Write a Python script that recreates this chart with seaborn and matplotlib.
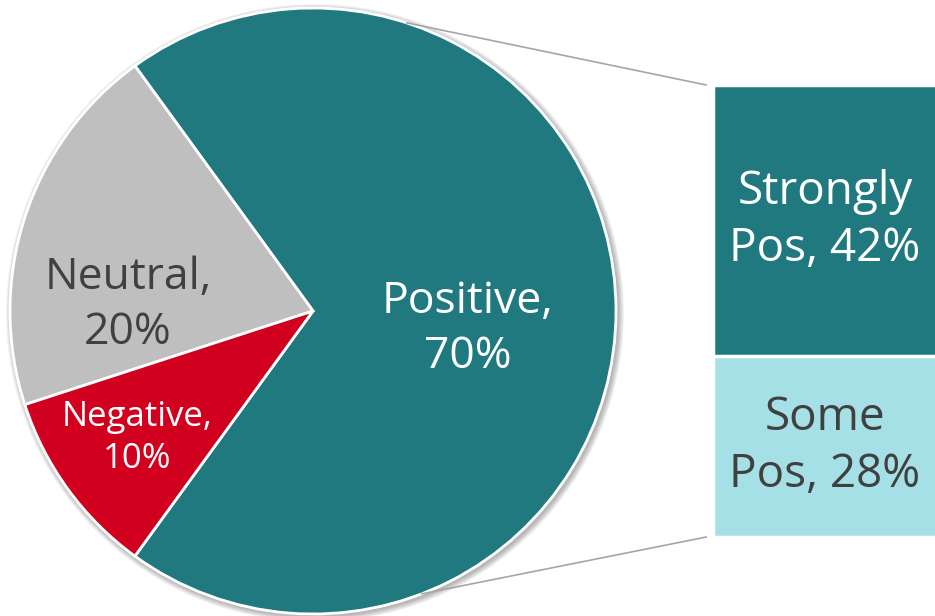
import numpy as np
import matplotlib
matplotlib.use("Agg")
import matplotlib.pyplot as plt
from matplotlib.patches import Circle, ConnectionPatch
import seaborn as sns

# pie data
pie_labels = ["Positive", "Neutral", "Negative"]
pie_values = [70, 20, 10]
pie_colors = ["#217980", "#BFBFBF", "#D0001E"]
pie_text_colors = ["white", "#404040", "white"]

# breakdown of the positive slice
bar_labels = ["Strongly\nPos", "Some\nPos"]
bar_values = [42, 28]
bar_colors = ["#217980", "#A5E0E6"]
bar_text_colors = ["white", "#404040"]

sns.set_theme(style="white")
plt.rcParams['font.family'] = ['Open Sans', 'DejaVu Sans']

W, H = 935, 616
fig = plt.figure(figsize=(W / 100, H / 100), dpi=100)

# pie axes in pixel-like units
ax = fig.add_axes([0, 0, 1, 1])
ax.set_xlim(0, W)
ax.set_ylim(0, H)
ax.set_aspect("equal")
ax.axis("off")

cx, cy, r = 313, H - 311, 303

# soft shadow behind the pie
for i in range(6):
    ax.add_patch(Circle((cx + 2, cy - 2), r + 1 + i, color="black",
                        alpha=0.05, lw=0, zorder=0))

wedges, _ = ax.pie(pie_values, colors=pie_colors, startangle=-126,
                   counterclock=True, center=(cx, cy), radius=r,
                   wedgeprops=dict(edgecolor="white", linewidth=2))
for w in wedges:
    w.set_zorder(2)
ax.set_xlim(0, W)
ax.set_ylim(0, H)
ax.axis("off")

label_pos = [(468, H - 329), (128, H - 305), (137, H - 438)]
label_size = [32, 32, 25]
for name, val, col, pos, fs in zip(pie_labels, pie_values, pie_text_colors,
                                   label_pos, label_size):
    ax.text(pos[0], pos[1], f"{name},\n{val}%", color=col, fontsize=fs,
            ha="center", va="center", linespacing=1.32, zorder=5)

# bar of pie
bx0, bx1, by_top, by_bot = 713, 937, 85, 537
bax = fig.add_axes([bx0 / W, (H - by_bot) / H, (bx1 - bx0) / W,
                    (by_bot - by_top) / H])
total = sum(bar_values)

# stacked: draw total first, then lower segment on top of it
cum = [total, bar_values[1]]
for val, col in zip(cum, bar_colors):
    sns.barplot(x=[0], y=[val], color=col, width=1, ax=bax,
                edgecolor="white", linewidth=2.5, saturation=1)
bax.set_xlim(-0.5, 0.5)
bax.set_ylim(0, total)
bax.axis("off")

bottoms = [bar_values[1], 0]
for name, val, b, col in zip(bar_labels, bar_values, bottoms, bar_text_colors):
    bax.text(0, b + val / 2, f"{name}, {val}%", color=col, fontsize=33,
             ha="center", va="center", linespacing=1.3)

# connector lines
for ang, yb in [(72, total), (-69, 0)]:
    a = np.deg2rad(ang)
    p = (cx + r * np.cos(a), cy + r * np.sin(a))
    con = ConnectionPatch(xyA=p, coordsA=ax.transData,
                          xyB=(-0.53, yb), coordsB=bax.transData,
                          color="#A6A6A6", lw=1.2)
    fig.add_artist(con)

plt.savefig("out.png", dpi=100)
